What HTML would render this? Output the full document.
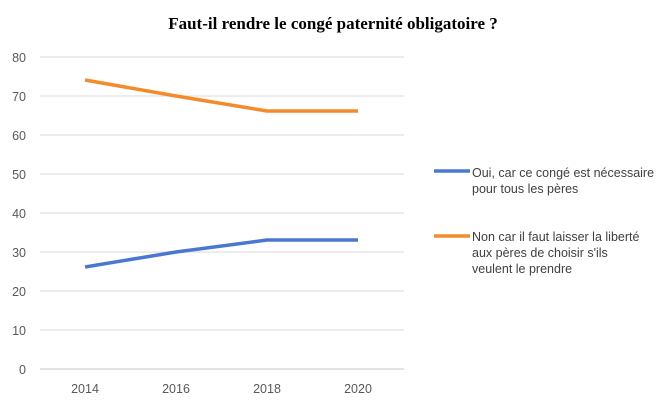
<!DOCTYPE html>
<html><head><meta charset="utf-8"><style>
body{margin:0;background:#fff;}
svg{display:block}
.t{font-family:"Liberation Sans",sans-serif;font-size:12.5px;fill:#595959}
.l{font-family:"Liberation Sans",sans-serif;font-size:12.5px;fill:#404040}
</style></head><body>
<svg width="666" height="408" xmlns="http://www.w3.org/2000/svg">
<text x="333" y="29" text-anchor="middle" font-family="Liberation Serif,serif" font-weight="bold" font-size="17" fill="#000">Faut-il rendre le congé paternité obligatoire ?</text>
<g stroke="#e6e6e6" stroke-width="1.5">
<line x1="40" x2="404" y1="57" y2="57"/><line x1="40" x2="404" y1="96" y2="96"/>
<line x1="40" x2="404" y1="135" y2="135"/><line x1="40" x2="404" y1="174" y2="174"/>
<line x1="40" x2="404" y1="213" y2="213"/><line x1="40" x2="404" y1="252" y2="252"/>
<line x1="40" x2="404" y1="291" y2="291"/><line x1="40" x2="404" y1="330" y2="330"/>
<line x1="40" x2="404" y1="369" y2="369" stroke="#d9d9d9"/>
</g>
<g text-anchor="end">
<text class="t" x="26" y="62">80</text><text class="t" x="26" y="101">70</text>
<text class="t" x="26" y="140">60</text><text class="t" x="26" y="179">50</text>
<text class="t" x="26" y="218">40</text><text class="t" x="26" y="257">30</text>
<text class="t" x="26" y="296">20</text><text class="t" x="26" y="335">10</text>
<text class="t" x="26" y="374">0</text>
</g>
<g text-anchor="middle">
<text class="t" x="85" y="393">2014</text><text class="t" x="176" y="393">2016</text>
<text class="t" x="267" y="393">2018</text><text class="t" x="358" y="393">2020</text>
</g>
<polyline points="85,80 176,96 267,111 358,111" fill="none" stroke="#f58a2a" stroke-width="3.5" stroke-linejoin="round"/>
<polyline points="85,267 176,252 267,240 358,240" fill="none" stroke="#4a78d0" stroke-width="3.5" stroke-linejoin="round"/>
<line x1="434" x2="470" y1="171" y2="171" stroke="#4a78d0" stroke-width="3.5"/>
<text class="l" x="472" y="177">Oui, car ce congé est nécessaire</text>
<text class="l" x="472" y="193">pour tous les pères</text>
<line x1="434" x2="470" y1="236" y2="236" stroke="#f58a2a" stroke-width="3.5"/>
<text class="l" x="472" y="241">Non car il faut laisser la liberté</text>
<text class="l" x="472" y="257">aux pères de choisir s'ils</text>
<text class="l" x="472" y="273">veulent le prendre</text>
</svg>
</body></html>
